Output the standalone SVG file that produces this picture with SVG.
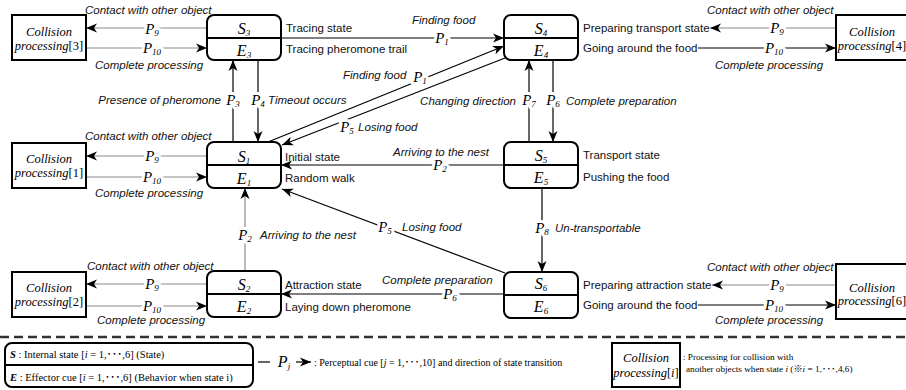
<svg xmlns="http://www.w3.org/2000/svg" width="906" height="390" viewBox="0 0 906 390">
<defs>
<marker id="ah" markerUnits="userSpaceOnUse" markerWidth="12" markerHeight="10" refX="11" refY="5" orient="auto">
<path d="M0,0.5 L11,5 L0,9.5 L3,5 Z" fill="#000"/>
</marker>
<style>
.sb{fill:#fff;stroke:#000;stroke-width:2}
.cb{fill:#fff;stroke:#000;stroke-width:2}
.dv{stroke:#000;stroke-width:2}
.sl{font-family:"Liberation Serif","Times New Roman",serif;font-style:italic;font-size:16px;text-anchor:middle;fill:#000}
.pl{font-family:"Liberation Serif","Times New Roman",serif;font-style:italic;font-size:15px;text-anchor:middle;fill:#000;stroke:#fff;stroke-width:6;paint-order:stroke;stroke-linejoin:round}
.sub{font-size:9px}
.t{font-family:"Liberation Sans",Arial,sans-serif;font-size:11.5px;fill:#111}
.ti{font-family:"Liberation Sans",Arial,sans-serif;font-size:11.5px;font-style:italic;fill:#111}
.ct{font-family:"Liberation Serif","Times New Roman",serif;font-style:italic;font-size:12.5px;text-anchor:middle;fill:#000}
.up{font-style:normal}
.cn{fill:none;stroke:#000;stroke-width:1.2;marker-end:url(#ah)}
.g{stroke:#8a8a8a}
.lg{font-family:"Liberation Serif","Times New Roman","Noto Sans CJK JP",serif;font-size:10.5px;fill:#000}
.lgc{font-family:"Liberation Serif","Times New Roman","Noto Sans CJK JP",serif;font-size:10px;fill:#000}
.lgs{font-family:"Liberation Serif","Times New Roman","Noto Sans CJK JP",serif;font-size:9.2px;fill:#000}
</style>
</defs>

<g id="connectors">
<line class="cn g" x1="207" y1="28" x2="86" y2="28"/>
<line class="cn g" x1="86" y1="48" x2="207" y2="48"/>
<line class="cn g" x1="207" y1="156" x2="86" y2="156"/>
<line class="cn g" x1="86" y1="177" x2="207" y2="177"/>
<line class="cn g" x1="207" y1="284" x2="86" y2="284"/>
<line class="cn g" x1="86" y1="306" x2="207" y2="306"/>
<line class="cn g" x1="836" y1="28" x2="710" y2="28"/>
<line class="cn" x1="698" y1="48" x2="836" y2="48"/>
<line class="cn g" x1="836" y1="285" x2="712" y2="285"/>
<line class="cn" x1="698" y1="305" x2="836" y2="305"/>
<line class="cn" x1="281" y1="38" x2="504" y2="38"/>
<line class="cn" x1="233" y1="142" x2="233" y2="60"/>
<line class="cn" x1="258" y1="60" x2="258" y2="142"/>
<line class="cn" x1="268" y1="142" x2="504" y2="46"/>
<line class="cn" x1="505" y1="58" x2="282" y2="145"/>
<line class="cn" x1="553" y1="60" x2="553" y2="142"/>
<line class="cn" x1="529" y1="142" x2="529" y2="60"/>
<line class="cn" x1="504" y1="165" x2="281" y2="165"/>
<line class="cn" x1="542" y1="188" x2="542" y2="272"/>
<line class="cn" x1="505" y1="273" x2="282" y2="189"/>
<line class="cn" x1="504" y1="294" x2="281" y2="294"/>
<line class="cn g" x1="245" y1="271" x2="245" y2="188"/>

<text class="pl" x="152" y="34">P<tspan class="sub" dy="2">9</tspan></text>
<text class="pl" x="152" y="53">P<tspan class="sub" dy="2">10</tspan></text>
<text class="pl" x="152" y="161">P<tspan class="sub" dy="2">9</tspan></text>
<text class="pl" x="152" y="182">P<tspan class="sub" dy="2">10</tspan></text>
<text class="pl" x="152" y="289">P<tspan class="sub" dy="2">9</tspan></text>
<text class="pl" x="152" y="311">P<tspan class="sub" dy="2">10</tspan></text>
<text class="pl" x="777" y="33">P<tspan class="sub" dy="2">9</tspan></text>
<text class="pl" x="774" y="53">P<tspan class="sub" dy="2">10</tspan></text>
<text class="pl" x="777" y="290">P<tspan class="sub" dy="2">9</tspan></text>
<text class="pl" x="774" y="310">P<tspan class="sub" dy="2">10</tspan></text>
<text class="pl" x="442" y="43">P<tspan class="sub" dy="2">1</tspan></text>
<text class="pl" x="233" y="105">P<tspan class="sub" dy="2">3</tspan></text>
<text class="pl" x="258" y="105">P<tspan class="sub" dy="2">4</tspan></text>
<text class="pl" x="420" y="82">P<tspan class="sub" dy="2">1</tspan></text>
<text class="pl" x="347" y="132">P<tspan class="sub" dy="2">5</tspan></text>
<text class="pl" x="553" y="105">P<tspan class="sub" dy="2">6</tspan></text>
<text class="pl" x="529" y="105">P<tspan class="sub" dy="2">7</tspan></text>
<text class="pl" x="440" y="170">P<tspan class="sub" dy="2">2</tspan></text>
<text class="pl" x="542" y="233">P<tspan class="sub" dy="2">8</tspan></text>
<text class="pl" x="385" y="232">P<tspan class="sub" dy="2">5</tspan></text>
<text class="pl" x="450" y="299">P<tspan class="sub" dy="2">6</tspan></text>
<text class="pl" x="245" y="240">P<tspan class="sub" dy="2">2</tspan></text>

<text class="ti" x="85" y="14">Contact with other object</text>
<text class="ti" x="95" y="69">Complete processing</text>
<text class="ti" x="85" y="140">Contact with other object</text>
<text class="ti" x="95" y="197">Complete processing</text>
<text class="ti" x="87" y="270">Contact with other object</text>
<text class="ti" x="97" y="324">Complete processing</text>
<text class="ti" x="707" y="14">Contact with other object</text>
<text class="ti" x="715" y="69">Complete processing</text>
<text class="ti" x="707" y="271">Contact with other object</text>
<text class="ti" x="715" y="324">Complete processing</text>
<text class="ti" x="412" y="24">Finding food</text>
<text class="ti" x="221" y="104" text-anchor="end">Presence of pheromone</text>
<text class="ti" x="268" y="104">Timeout occurs</text>
<text class="ti" x="343" y="79">Finding food</text>
<text class="ti" x="358" y="131">Losing food</text>
<text class="ti" x="516" y="105" text-anchor="end">Changing direction</text>
<text class="ti" x="566" y="105">Complete preparation</text>
<text class="ti" x="393" y="156">Arriving to the nest</text>
<text class="ti" x="402" y="231">Losing food</text>
<text class="ti" x="555" y="232">Un-transportable</text>
<text class="ti" x="260" y="239">Arriving to the nest</text>
<text class="ti" x="382" y="284">Complete preparation</text>
</g>

<g id="S3">
<rect class="sb" x="207" y="15" width="74" height="45" rx="7"/>
<line class="dv" x1="207" y1="38" x2="281" y2="38"/>
<text class="sl" x="244" y="34">S<tspan class="sub" dy="2">3</tspan></text>
<text class="sl" x="244" y="56">E<tspan class="sub" dy="2">3</tspan></text>
<text class="t" x="286" y="32">Tracing state</text>
<text class="t" x="286" y="53">Tracing pheromone trail</text>
</g>

<g id="S4">
<rect class="sb" x="504" y="15" width="74" height="45" rx="7"/>
<line class="dv" x1="504" y1="38" x2="578" y2="38"/>
<text class="sl" x="541" y="34">S<tspan class="sub" dy="2">4</tspan></text>
<text class="sl" x="541" y="56">E<tspan class="sub" dy="2">4</tspan></text>
<text class="t" x="583" y="32">Preparing transport state</text>
<text class="t" x="583" y="52">Going around the food</text>
</g>

<g id="S1">
<rect class="sb" x="207" y="142" width="74" height="46" rx="7"/>
<line class="dv" x1="207" y1="165" x2="281" y2="165"/>
<text class="sl" x="244" y="162">S<tspan class="sub" dy="2">1</tspan></text>
<text class="sl" x="244" y="184">E<tspan class="sub" dy="2">1</tspan></text>
<text class="t" x="285" y="161">Initial state</text>
<text class="t" x="285" y="182">Random walk</text>
</g>

<g id="S5">
<rect class="sb" x="504" y="142" width="74" height="46" rx="7"/>
<line class="dv" x1="504" y1="165" x2="578" y2="165"/>
<text class="sl" x="541" y="161">S<tspan class="sub" dy="2">5</tspan></text>
<text class="sl" x="541" y="183">E<tspan class="sub" dy="2">5</tspan></text>
<text class="t" x="583" y="159">Transport state</text>
<text class="t" x="583" y="181">Pushing the food</text>
</g>

<g id="S2">
<rect class="sb" x="207" y="271" width="74" height="46" rx="7"/>
<line class="dv" x1="207" y1="294" x2="281" y2="294"/>
<text class="sl" x="244" y="290">S<tspan class="sub" dy="2">2</tspan></text>
<text class="sl" x="244" y="312">E<tspan class="sub" dy="2">2</tspan></text>
<text class="t" x="285" y="289">Attraction state</text>
<text class="t" x="285" y="311">Laying down pheromone</text>
</g>

<g id="S6">
<rect class="sb" x="504" y="272" width="74" height="46" rx="7"/>
<line class="dv" x1="504" y1="295" x2="578" y2="295"/>
<text class="sl" x="541" y="289">S<tspan class="sub" dy="2">6</tspan></text>
<text class="sl" x="541" y="312">E<tspan class="sub" dy="2">6</tspan></text>
<text class="t" x="583" y="289">Preparing attraction state</text>
<text class="t" x="583" y="309">Going around the food</text>
</g>

<g id="C3">
<rect class="cb" x="12" y="15" width="74" height="45"/>
<text class="ct" x="49" y="36">Collision</text>
<text class="ct" x="49" y="50">processing<tspan class="up">[3]</tspan></text>
</g>
<g id="C1">
<rect class="cb" x="12" y="143" width="74" height="45"/>
<text class="ct" x="49" y="163">Collision</text>
<text class="ct" x="49" y="177">processing<tspan class="up">[1]</tspan></text>
</g>
<g id="C2">
<rect class="cb" x="12" y="272" width="74" height="45"/>
<text class="ct" x="49" y="292">Collision</text>
<text class="ct" x="49" y="306">processing<tspan class="up">[2]</tspan></text>
</g>
<g id="C4">
<rect class="cb" x="836" y="15" width="76" height="45"/>
<text class="ct" x="872" y="36">Collision</text>
<text class="ct" x="872" y="50">processing<tspan class="up">[4]</tspan></text>
</g>
<g id="C6">
<rect class="cb" x="836" y="264" width="76" height="55"/>
<text class="ct" x="872" y="292">Collision</text>
<text class="ct" x="872" y="305">processing<tspan class="up">[6]</tspan></text>
</g>

<line x1="0" y1="337" x2="906" y2="337" stroke="#333" stroke-width="2.5" stroke-dasharray="9 5"/>

<g id="legend-state">
<rect class="sb" x="5" y="343" width="248" height="44" rx="7"/>
<line class="dv" x1="5" y1="365" x2="253" y2="365"/>
<text class="lg" x="10" y="358"><tspan font-style="italic" font-weight="bold">S</tspan> : Internal state [<tspan font-style="italic">i</tspan> = 1,･･･,6] (State)</text>
<text class="lg" x="10" y="381"><tspan font-style="italic" font-weight="bold">E</tspan> : Effector cue [<tspan font-style="italic">i</tspan> = 1,･･･,6] (Behavior when state i)</text>
</g>

<g id="legend-cue">
<line x1="258" y1="362" x2="270" y2="362" stroke="#000" stroke-width="1.2"/>
<text class="sl" x="284" y="367" font-size="15">P<tspan class="sub" dy="2">j</tspan></text>
<line class="cn" x1="296" y1="362" x2="311" y2="362"/>
<text class="lgc" x="314" y="366">: Perceptual cue [<tspan font-style="italic">j</tspan> = 1,･･･,10] and direction of state transition</text>
</g>

<g id="legend-collision">
<rect class="cb" x="612" y="343" width="68" height="44"/>
<text class="ct" x="646" y="362">Collision</text>
<text class="ct" x="646" y="377">processing<tspan class="up">[</tspan>i<tspan class="up">]</tspan></text>
<text class="lgs" x="683" y="360">: Processing for collision with</text>
<text class="lgs" x="686" y="372">another objects when state <tspan font-style="italic">i</tspan> (※<tspan font-style="italic">i</tspan> = 1,･･･,4,6)</text>
</g>
</svg>
